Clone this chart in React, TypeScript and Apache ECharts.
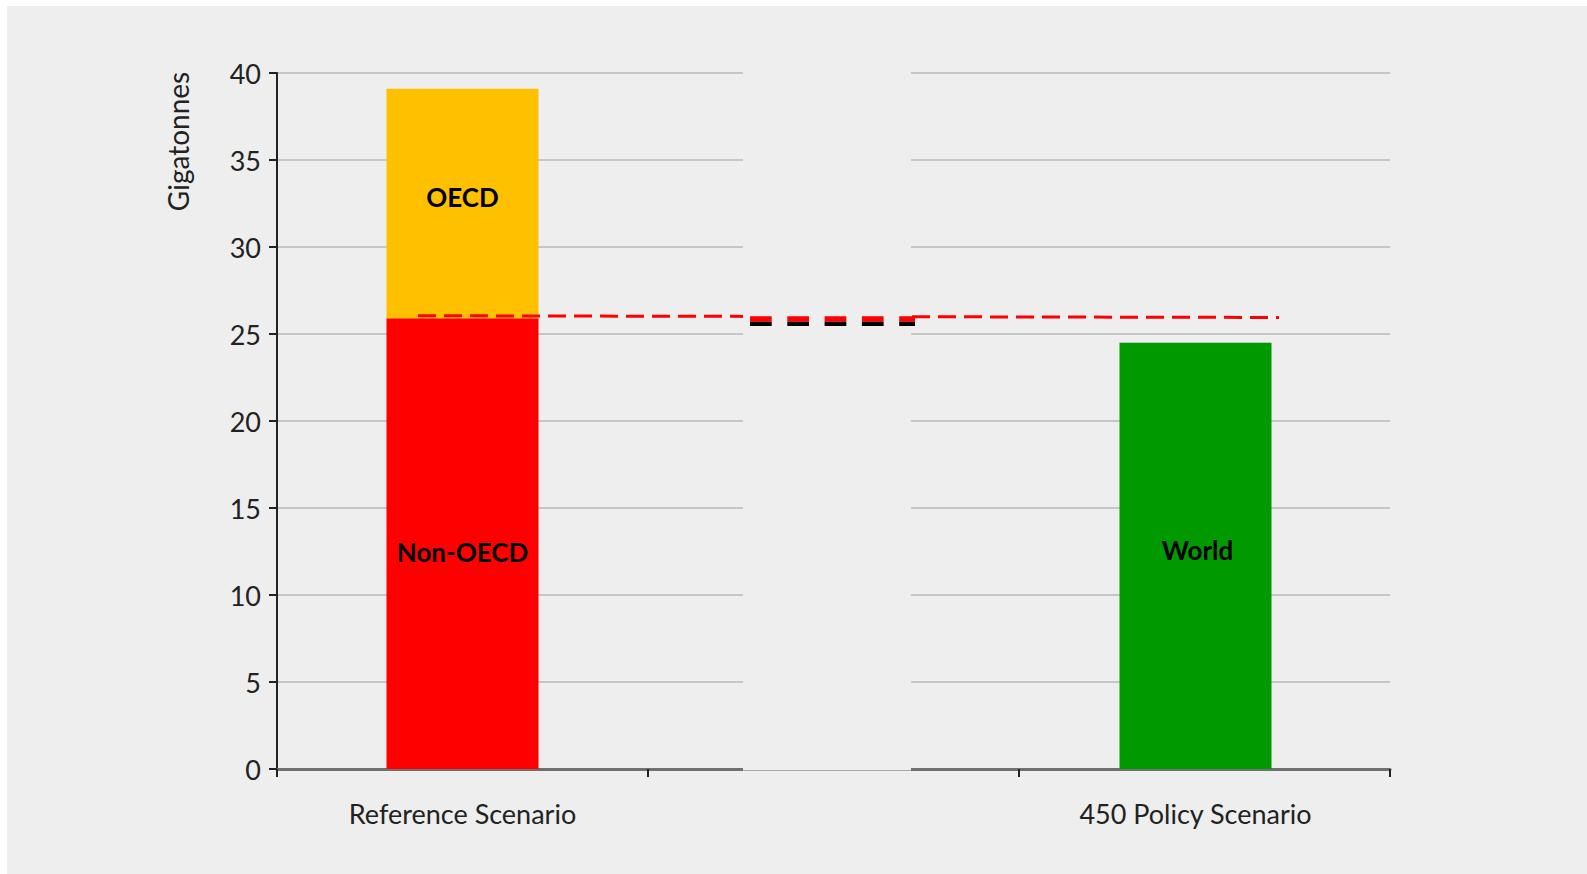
import React, { useEffect, useRef } from "react";
import * as echarts from "echarts";

const categories = ["Reference Scenario", "", "450 Policy Scenario"];
const nonOecd = [25.9, null, null];
const oecd = [13.2, null, null];
const world = [null, null, 24.5];
const yTicks = { min: 0, max: 40, interval: 5 };
const thresholdLine = [26.05, 25.95]; // thin red dashed line, start/end values
const gapRedValue = 25.86;
const gapBlackValue = 25.58;

const FONT = "Lato";
const BG = "#eeeeee";

export default function App() {
  const ref = useRef<HTMLDivElement>(null);
  useEffect(() => {
    if (!ref.current) return;
    const chart = echarts.init(ref.current, undefined, { renderer: "svg" });
    const labelBase = {
      show: true,
      position: "inside",
      color: "#000",
      fontWeight: "bold",
      fontSize: 26,
      fontFamily: FONT,
    };
    const barW = 152;
    const catData = categories.map((c, i) =>
      i === 2 ? { value: c, textStyle: { padding: [0, 18, 0, 0] } } : c
    );
    chart.setOption({
      animation: false,
      backgroundColor: BG,
      textStyle: { fontFamily: FONT },
      grid: { left: 270, top: 67, right: 197, bottom: 105, containLabel: false },
      xAxis: {
        type: "category",
        data: catData,
        boundaryGap: true,
        axisLine: { lineStyle: { color: "#707070", width: 3 } },
        axisTick: { show: true, alignWithLabel: false, length: 8, lineStyle: { color: "#222", width: 2 } },
        axisLabel: { color: "#222", fontSize: 27, fontFamily: FONT, margin: 31 },
        splitLine: { show: false },
      },
      yAxis: {
        type: "value",
        min: yTicks.min,
        max: yTicks.max,
        interval: yTicks.interval,
        axisLine: { show: true, lineStyle: { color: "#222", width: 2 } },
        axisTick: { show: true, length: 8, lineStyle: { color: "#222", width: 2 } },
        axisLabel: { color: "#222", fontSize: 27, fontFamily: FONT, margin: 16, padding: [4, 0, 0, 0] },
        splitLine: { show: true, lineStyle: { color: "#c6c6c6", width: 2 } },
      },
      series: [
        {
          name: "spacer",
          type: "bar",
          stack: "spacer",
          data: [null, null, null],
          barWidth: barW,
          silent: true,
        },
        {
          name: "Non-OECD",
          type: "bar",
          stack: "ref",
          data: nonOecd,
          barWidth: barW,
          itemStyle: { color: "#ff0000" },
          label: { ...labelBase, formatter: "Non-OECD", offset: [0, 8] },
        },
        {
          name: "OECD",
          type: "bar",
          stack: "ref",
          data: oecd,
          barWidth: barW,
          itemStyle: { color: "#ffc000" },
          label: { ...labelBase, formatter: "OECD", offset: [0, -7] },
        },
        {
          name: "World",
          type: "bar",
          stack: "world",
          data: world,
          barWidth: barW,
          barGap: `${-100 - (9 / barW) * 100}%`,
          itemStyle: { color: "#009900" },
          label: { ...labelBase, formatter: "World", offset: [2, -6] },
        },
      ],
    });

    const py = (v: number) => chart.convertToPixel({ yAxisIndex: 0 }, v) as number;
    const y0 = py(0);
    const boxLeft = 736;
    const boxRight = 904;
    chart.setOption({
      graphic: [
        {
          type: "text",
          x: 171,
          y: 135.5,
          rotation: Math.PI / 2,
          style: {
            text: "Gigatonnes",
            fontSize: 28,
            fontFamily: FONT,
            fill: "#222",
            align: "center",
            verticalAlign: "middle",
          },
          z: 10,
        },
        {
          type: "line",
          shape: { x1: 411, y1: py(thresholdLine[0]), x2: 1272, y2: py(thresholdLine[1]) },
          style: { stroke: "#ff0000", lineWidth: 3, lineDash: [18, 8] },
          z: 10,
        },
        {
          type: "rect",
          shape: { x: boxLeft, y: 50, width: boxRight - boxLeft, height: y0 + 2 - 50 },
          style: { fill: BG },
          z: 20,
        },
        {
          type: "line",
          shape: { x1: boxLeft, y1: y0 + 1.5, x2: boxRight, y2: y0 + 1.5 },
          style: { stroke: "#a8a8a8", lineWidth: 1 },
          z: 21,
        },
        {
          type: "line",
          shape: { x1: 743, y1: py(gapRedValue), x2: 908, y2: py(gapRedValue) },
          style: { stroke: "#ff0000", lineWidth: 5.4, lineDash: [21.7, 15.6] },
          z: 22,
        },
        {
          type: "line",
          shape: { x1: 743, y1: py(gapBlackValue), x2: 908, y2: py(gapBlackValue) },
          style: { stroke: "#000000", lineWidth: 4.3, lineDash: [21.7, 15.6] },
          z: 22,
        },
      ],
    });
    return () => chart.dispose();
  }, []);
  return (
    <div
      ref={ref}
      style={{ position: "fixed", left: 7, top: 6, width: 1580, height: 868 }}
    />
  );
}
